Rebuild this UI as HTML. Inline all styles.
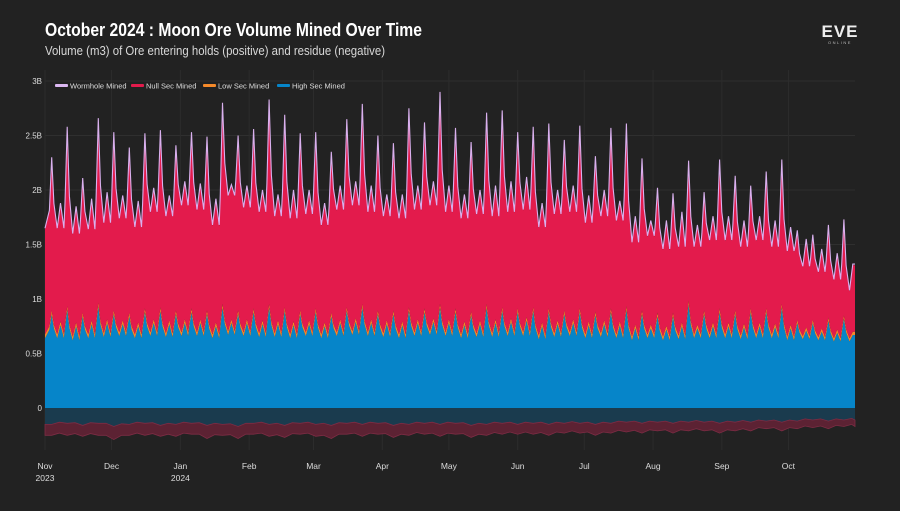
<!DOCTYPE html>
<html><head><meta charset="utf-8">
<style>
html,body{margin:0;padding:0;background:#222222;}
body{width:900px;height:506px;overflow:hidden;font-family:"Liberation Sans",sans-serif;}
svg text{font-family:"Liberation Sans",sans-serif;}
</style></head>
<body>
<svg id="chart" width="900" height="506" xmlns="http://www.w3.org/2000/svg">
<rect width="900" height="506" fill="#222222"/>
<text x="45" y="36" fill="#ffffff" font-size="18" font-weight="bold" textLength="377" lengthAdjust="spacingAndGlyphs">October 2024 : Moon Ore Volume Mined Over Time</text>
<text x="45" y="55" fill="#d8d8d8" font-size="12.5" textLength="340" lengthAdjust="spacingAndGlyphs">Volume (m3) of Ore entering holds (positive) and residue (negative)</text>
<g>
<text x="840" y="37" fill="#eeeeee" font-size="17" font-weight="bold" text-anchor="middle" letter-spacing="1">EVE</text>
<text x="840" y="44" fill="#bbbbbb" font-size="4" text-anchor="middle" letter-spacing="1.5">ONLINE</text>
</g>
<g id="grid"></g>
<g id="areas"></g>
<g id="axes"></g>
<g id="legend"></g>
</svg>
<script>
// weekly peaks of stacked total (B m3)
const totalPeak=[2.30,2.58,2.11,2.66,2.53,2.39,2.52,2.55,2.41,2.53,2.49,2.80,2.50,2.56,2.83,2.69,2.52,2.53,2.35,2.65,2.79,2.50,2.43,2.75,2.62,2.90,2.57,2.44,2.71,2.73,2.53,2.58,2.61,2.46,2.59,2.31,2.57,2.61,2.29,2.02,1.97,2.27,1.98,2.28,2.13,2.04,2.17,2.28,1.63,1.59,1.68,1.73];
const totalLow=[1.65,1.60,1.64,1.70,1.74,1.66,1.80,1.76,1.86,1.82,1.68,1.95,1.84,1.80,1.76,1.74,1.78,1.68,1.82,1.86,1.80,1.76,1.74,1.82,1.86,1.80,1.74,1.78,1.76,1.80,1.82,1.66,1.78,1.80,1.70,1.76,1.72,1.52,1.58,1.46,1.48,1.48,1.54,1.54,1.48,1.54,1.48,1.44,1.30,1.25,1.18,1.08];
const totalMid=[1.88,1.85,1.92,1.98,1.95,1.90,2.02,1.95,2.08,2.06,1.92,2.05,2.04,2.00,1.96,2.00,2.00,1.88,2.04,2.08,2.04,1.96,1.96,2.04,2.08,2.04,1.96,2.00,2.04,2.08,2.12,1.88,2.00,2.04,1.95,2.00,1.90,1.76,1.72,1.72,1.80,1.68,1.76,1.76,1.72,1.76,1.72,1.66,1.55,1.46,1.42,1.32];
const highPeak=[0.86,0.90,0.84,0.93,0.86,0.84,0.88,0.89,0.86,0.88,0.86,0.92,0.86,0.88,0.92,0.89,0.86,0.88,0.84,0.89,0.92,0.86,0.86,0.89,0.88,0.92,0.88,0.85,0.92,0.89,0.88,0.89,0.88,0.86,0.88,0.85,0.88,0.90,0.86,0.84,0.84,0.95,0.86,0.88,0.86,0.88,0.88,0.92,0.78,0.78,0.80,0.82];
const highLow=[0.64,0.62,0.64,0.65,0.66,0.64,0.66,0.65,0.66,0.66,0.64,0.67,0.66,0.65,0.65,0.64,0.66,0.64,0.66,0.67,0.66,0.65,0.64,0.66,0.67,0.66,0.64,0.65,0.65,0.66,0.66,0.63,0.65,0.66,0.64,0.65,0.64,0.62,0.64,0.62,0.63,0.64,0.64,0.64,0.63,0.64,0.64,0.62,0.63,0.62,0.61,0.61];
const highMid=[0.76,0.75,0.77,0.78,0.77,0.75,0.78,0.77,0.78,0.78,0.75,0.78,0.78,0.77,0.77,0.76,0.77,0.75,0.78,0.79,0.78,0.77,0.76,0.78,0.79,0.78,0.76,0.77,0.78,0.79,0.80,0.75,0.77,0.78,0.76,0.77,0.76,0.73,0.73,0.72,0.75,0.73,0.75,0.75,0.74,0.75,0.74,0.73,0.71,0.70,0.69,0.67];
const lowSec=[0.035,0.035,0.035,0.035,0.035,0.035,0.035,0.035,0.035,0.035,0.035,0.035,0.035,0.035,0.035,0.035,0.035,0.035,0.035,0.035,0.035,0.035,0.035,0.035,0.035,0.035,0.035,0.035,0.035,0.035,0.035,0.035,0.035,0.035,0.035,0.035,0.035,0.035,0.035,0.035,0.035,0.035,0.035,0.035,0.035,0.035,0.035,0.035,0.03,0.03,0.03,0.03];
const wormhole=[0.01,0.01,0.01,0.01,0.01,0.01,0.01,0.01,0.01,0.01,0.01,0.01,0.01,0.01,0.01,0.01,0.01,0.01,0.01,0.01,0.01,0.01,0.01,0.01,0.01,0.01,0.01,0.01,0.01,0.01,0.01,0.01,0.01,0.01,0.01,0.01,0.01,0.01,0.01,0.01,0.01,0.01,0.01,0.01,0.01,0.01,0.01,0.01,0.01,0.01,0.01,0.01];
// residue (negative), weekly
const resHigh=[-0.15,-0.14,-0.16,-0.14,-0.17,-0.15,-0.14,-0.16,-0.15,-0.14,-0.16,-0.15,-0.17,-0.14,-0.15,-0.16,-0.14,-0.15,-0.16,-0.14,-0.15,-0.14,-0.16,-0.15,-0.14,-0.15,-0.14,-0.16,-0.15,-0.14,-0.15,-0.14,-0.15,-0.14,-0.14,-0.15,-0.14,-0.13,-0.14,-0.13,-0.14,-0.13,-0.13,-0.14,-0.13,-0.13,-0.12,-0.13,-0.12,-0.11,-0.12,-0.11];
const resNull=[-0.10,-0.11,-0.10,-0.11,-0.12,-0.10,-0.11,-0.10,-0.11,-0.10,-0.12,-0.10,-0.11,-0.10,-0.11,-0.11,-0.10,-0.11,-0.12,-0.10,-0.11,-0.10,-0.11,-0.10,-0.10,-0.11,-0.10,-0.11,-0.10,-0.10,-0.09,-0.10,-0.10,-0.09,-0.09,-0.10,-0.09,-0.09,-0.09,-0.08,-0.09,-0.08,-0.08,-0.09,-0.08,-0.08,-0.07,-0.08,-0.07,-0.07,-0.07,-0.06];
const yTicks=[0,0.5,1,1.5,2,2.5,3];
const yTickLabels=["0","0.5B","1B","1.5B","2B","2.5B","3B"];
const monthDays=[0,30,61,92,121,152,182,213,243,274,305,335];
const monthLabels=["Nov","Dec","Jan","Feb","Mar","Apr","May","Jun","Jul","Aug","Sep","Oct"];
const yearLabels={0:"2023",2:"2024"};

const NS="http://www.w3.org/2000/svg";
const X0=45,X1=855,DAYS=365,Y0=408,PXB=109;
const xs=d=>X0+d*(X1-X0)/DAYS;
const ys=v=>Y0-v*PXB;
function mk(tag,attrs,parent){const e=document.createElementNS(NS,tag);for(const k in attrs)e.setAttribute(k,attrs[k]);parent.appendChild(e);return e;}
const grid=document.getElementById('grid'),areas=document.getElementById('areas'),axes=document.getElementById('axes'),legend=document.getElementById('legend');

yTicks.forEach((t,i)=>{
  const l=mk('line',{x1:X0,x2:X1,y1:ys(t),y2:ys(t),stroke:'#2f2f2f','stroke-width':1},grid);
  
  
  const tx=mk('text',{x:42,y:ys(t)+3,fill:'#dddddd','font-size':8,'text-anchor':'end'},axes);
  tx.textContent=yTickLabels[i];
  
  
});
monthDays.forEach((d,i)=>{
  const l=mk('line',{x1:xs(d),x2:xs(d),y1:70,y2:450,stroke:'#2c2c2c','stroke-width':1},grid);
  
  
  const tx=mk('text',{x:xs(d),y:469,fill:'#dddddd','font-size':8.5,'text-anchor':'middle'},axes);
  tx.textContent=monthLabels[i];
  
  
  if(yearLabels[i]){
    const ty=mk('text',{x:xs(d),y:481,fill:'#dddddd','font-size':8.5,'text-anchor':'middle'},axes);
    ty.textContent=yearLabels[i];
    
    
  }
});

// build sample points from weekly arrays
const days=[],tot=[],hi=[],lo=[],wh=[];
function push(d,t,h,l,w){days.push(d);tot.push(t);hi.push(h);lo.push(l);wh.push(w);}
push(0,totalLow[0],highLow[0],lowSec[0],wormhole[0]);
for(let k=0;k<totalPeak.length;k++){
  const d=3+7*k;
  const pl=k>0?totalLow[k-1]:totalLow[0], phl=k>0?highLow[k-1]:highLow[0];
  push(d-1,pl+0.25*(totalPeak[k]-pl),phl+0.35*(highPeak[k]-phl),lowSec[k],wormhole[k]);
  push(d,totalPeak[k],highPeak[k],lowSec[k],wormhole[k]);
  if(d+1<=DAYS) push(d+1,totalLow[k]+0.35*(totalPeak[k]-totalLow[k]),highLow[k]+0.4*(highPeak[k]-highLow[k]),lowSec[k],wormhole[k]);
  if(d+2.5<=DAYS) push(d+2.5,totalLow[k],highLow[k],lowSec[k],wormhole[k]);
  if(d+4<=DAYS) push(d+4,totalMid[k],highMid[k],lowSec[k],wormhole[k]);
  if(d+5.5<=DAYS) push(d+5.5,totalLow[k],highLow[k],lowSec[k],wormhole[k]);
}
push(DAYS,totalMid[totalMid.length-1],highMid[highMid.length-1],lowSec[lowSec.length-1],wormhole[wormhole.length-1]);

function areaPath(top,bot){
  let p='M'+xs(days[0])+','+ys(top[0]);
  for(let i=1;i<days.length;i++)p+='L'+xs(days[i]).toFixed(1)+','+ys(top[i]).toFixed(1);
  for(let i=days.length-1;i>=0;i--)p+='L'+xs(days[i]).toFixed(1)+','+ys(bot[i]).toFixed(1);
  return p+'Z';
}
function linePath(top,dd){
  let p='';dd.forEach((d,i)=>{p+=(i?'L':'M')+xs(d).toFixed(1)+','+ys(top[i]).toFixed(1);});return p;
}
const zero=days.map(()=>0);
const hiTop=hi;
const loTop=hi.map((h,i)=>h+lo[i]);
const nullTop=tot.map((t,i)=>t-wh[i]);
const whTop=tot;
const pHigh=mk('path',{d:areaPath(hiTop,zero),fill:'#0685c9'},areas);


const pLow=mk('path',{d:areaPath(loTop,hiTop),fill:'#f58a2a'},areas);


const pNull=mk('path',{d:areaPath(nullTop,loTop),fill:'#e31b4c'},areas);


const pWh=mk('path',{d:linePath(whTop,days),fill:'none',stroke:'#d9b0ee','stroke-width':1.1},areas);



// residue
const rd=[0],rh=[resHigh[0]],rn=[resHigh[0]+resNull[0]];
for(let k=0;k<resHigh.length;k++){
  const d=3+7*k;rd.push(d);rh.push(resHigh[k]);rn.push(resHigh[k]+resNull[k]);
  const k2=Math.min(k+1,resHigh.length-1);
  if(d+3.5<=DAYS){rd.push(d+3.5);rh.push((resHigh[k]+resHigh[k2])/2+0.015);rn.push((resHigh[k]+resNull[k]+resHigh[k2]+resNull[k2])/2+0.02);}
}
rd.push(DAYS);rh.push(resHigh[resHigh.length-1]);rn.push(resHigh[resHigh.length-1]+resNull[resNull.length-1]);
function rArea(top,bot){
  let p='M'+xs(rd[0])+','+ys(top[0]);
  for(let i=1;i<rd.length;i++)p+='L'+xs(rd[i]).toFixed(1)+','+ys(top[i]).toFixed(1);
  for(let i=rd.length-1;i>=0;i--)p+='L'+xs(rd[i]).toFixed(1)+','+ys(bot[i]).toFixed(1);
  return p+'Z';
}
const rz=rd.map(()=>0);
const rH=mk('path',{d:rArea(rz,rh),fill:'#1a3b4e'},areas);


const rN=mk('path',{d:rArea(rh,rn),fill:'#5c2233',stroke:'#7d2c44','stroke-width':0.8},areas);



// legend
const legItems=[["Wormhole Mined","#dcb8f2"],["Null Sec Mined","#e31b4c"],["Low Sec Mined","#f58a2a"],["High Sec Mined","#0685c9"]];
let lx=55;
const lw=[76,72,74,70];
legItems.forEach((it,i)=>{
  const g=mk('g',{},legend);
  
  
  mk('rect',{x:lx,y:84,width:13,height:3,fill:it[1],rx:1},g);
  const t=mk('text',{x:lx+15,y:88.5,fill:'#dddddd','font-size':7.5},g);
  t.textContent=it[0];
  lx+=lw[i];
});
</script>
</body></html>
